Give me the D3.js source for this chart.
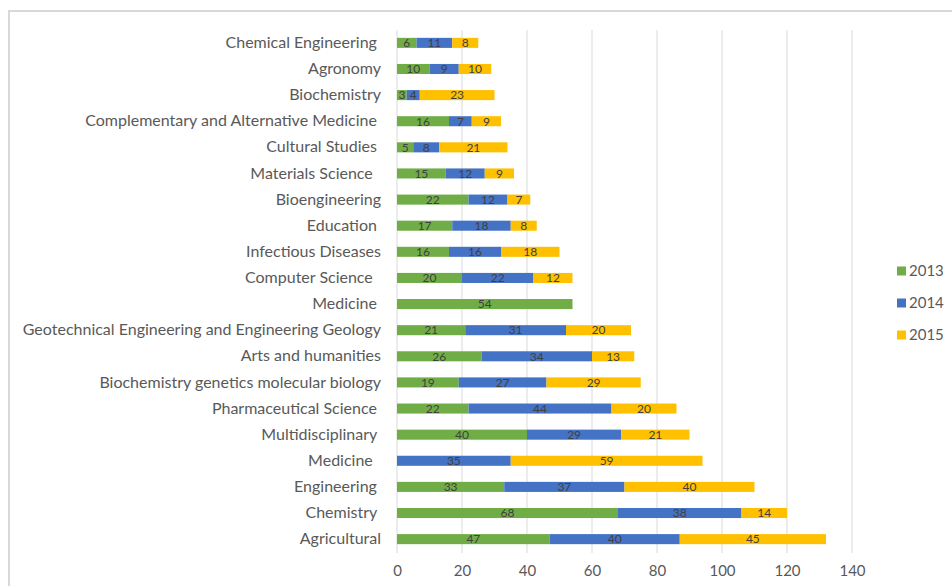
<!DOCTYPE html>
<html>
<head>
<meta charset="utf-8">
<script src="https://cdn.jsdelivr.net/npm/d3@7"></script>
<style>
  html, body { margin: 0; padding: 0; background: #fff; }
  svg { display: block; font-family: Lato, "Open Sans", sans-serif; }
</style>
</head>
<body>
<svg id="chart" width="952" height="586"></svg>
<script>
// Subject areas, top to bottom (trailing spaces are part of the original labels)
const categories = [
  "Chemical Engineering ", "Agronomy", "Biochemistry", "Complementary and Alternative Medicine ",
  "Cultural Studies ", "Materials Science  ", "Bioengineering", "Education ",
  "Infectious Diseases", "Computer Science  ", "Medicine ", "Geotechnical Engineering and Engineering Geology",
  "Arts and humanities", "Biochemistry genetics molecular biology", "Pharmaceutical Science ", "Multidisciplinary ",
  "Medicine  ", "Engineering ", "Chemistry ", "Agricultural"
];
const years = ["2013", "2014", "2015"];
const values2013 = [6, 10, 3, 16, 5, 15, 22, 17, 16, 20, 54, 21, 26, 19, 22, 40, 0, 33, 68, 47];
const values2014 = [11, 9, 4, 7, 8, 12, 12, 18, 16, 22, 0, 31, 34, 27, 44, 29, 35, 37, 38, 40];
const values2015 = [8, 10, 23, 9, 21, 9, 7, 8, 18, 12, 0, 20, 13, 29, 20, 21, 59, 40, 14, 45];
const xTicks = [0, 20, 40, 60, 80, 100, 120, 140];
const colors = ["#70ad47", "#4472c4", "#ffc000"];

const rows = categories.map((c, i) => ({
  idx: i, name: c,
  "2013": values2013[i], "2014": values2014[i], "2015": values2015[i]
}));

const svg = d3.select("#chart");

// chart frame
svg.append("rect")
  .attr("x", 9).attr("y", 11).attr("width", 960).attr("height", 600)
  .attr("fill", "none").attr("stroke", "#d9d9d9").attr("stroke-width", 2);

const x = d3.scaleLinear().domain([0, 140]).range([397, 852]);
const y = d3.scaleBand().domain(d3.range(categories.length)).range([30, 552]).paddingInner(0.615).paddingOuter(0.3);

// vertical gridlines
svg.append("g").selectAll("line").data(xTicks).join("line")
  .attr("x1", d => x(d)).attr("x2", d => x(d))
  .attr("y1", 30).attr("y2", 553)
  .attr("stroke", "#d9d9d9").attr("stroke-width", 1);

const stack = d3.stack().keys(years);
const series = stack(rows);

const layers = svg.append("g").selectAll("g").data(series).join("g")
  .attr("fill", (d, i) => colors[i]);

layers.selectAll("rect").data(d => d.filter(p => p[1] - p[0] > 0)).join("rect")
  .attr("x", p => x(p[0]))
  .attr("y", p => y(p.data.idx))
  .attr("width", p => x(p[1]) - x(p[0]))
  .attr("height", y.bandwidth());

// value labels centred in each segment
const labels = svg.append("g").attr("font-size", 12).attr("fill", "#404040").attr("text-anchor", "middle");
series.forEach(s => {
  s.filter(p => p[1] - p[0] > 0).forEach(p => {
    labels.append("text")
      .attr("x", x((p[0] + p[1]) / 2))
      .attr("y", y(p.data.idx) + y.bandwidth() / 2)
      .attr("dy", "0.36em")
      .text(p[1] - p[0]);
  });
});

// category axis
const yAxis = svg.append("g").attr("transform", "translate(397,0)")
  .call(d3.axisLeft(y).tickSize(0).tickPadding(16).tickFormat(i => categories[i]));
yAxis.select(".domain").remove();
yAxis.selectAll("text")
  .attr("font-family", "Lato, 'Open Sans', sans-serif")
  .attr("font-size", 16).attr("fill", "#595959")
  .style("white-space", "pre");

// value axis
const xAxis = svg.append("g").attr("transform", "translate(0,553)")
  .call(d3.axisBottom(x).tickValues(xTicks).tickSize(0).tickPadding(12));
xAxis.select(".domain").remove();
xAxis.selectAll("text")
  .attr("font-family", "Lato, 'Open Sans', sans-serif")
  .attr("font-size", 15).attr("fill", "#595959");

// legend
const legend = svg.append("g").selectAll("g").data(years).join("g")
  .attr("transform", (d, i) => `translate(897,${271 + i * 32})`);
legend.append("rect").attr("x", 0).attr("y", -4.5).attr("width", 9).attr("height", 9)
  .attr("fill", (d, i) => colors[i]);
legend.append("text").attr("x", 12).attr("dy", "0.36em")
  .attr("font-size", 15).attr("fill", "#595959").text(d => d);
</script>
</body>
</html>
